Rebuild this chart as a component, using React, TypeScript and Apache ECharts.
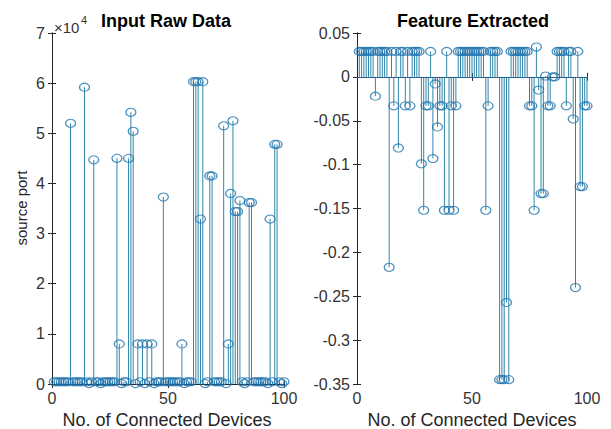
import React, { useEffect, useRef } from "react";
import * as echarts from "echarts";

// Device index (x axis) 1..100
const deviceIndex: number[] = Array.from({ length: 100 }, (_, i) => i + 1);

// Left subplot: raw source port values
const rawSourcePort: number[] = [
  443, 443, 443, 443, 443, 443, 443, 52000, 443, 443,
  443, 443, 443, 59200, 443, 80, 443, 44700, 443, 443,
  80, 443, 443, 443, 443, 443, 443, 45000, 8000, 80,
  443, 443, 45000, 54200, 50400, 80, 8000, 443, 8000, 80,
  8000, 443, 8000, 80, 443, 443, 443, 37300, 443, 443,
  443, 443, 443, 443, 443, 8000, 80, 443, 443, 443,
  60300, 60300, 60300, 32900, 60300, 80, 443, 41500, 41500, 443,
  443, 443, 443, 51500, 80, 8000, 38000, 52500, 34400, 34400,
  36600, 443, 80, 443, 36200, 36200, 443, 443, 443, 443,
  443, 443, 80, 32900, 443, 47800, 47800, 443, 80, 443,
];

// Right subplot: extracted feature values
const featureValues: number[] = [
  0.029, 0.029, 0.029, 0.029, 0.029, 0.029, 0.029, -0.022, 0.029, 0.029,
  0.029, 0.029, 0.029, -0.217, 0.029, -0.033, 0.029, -0.081, 0.029, 0.029,
  -0.033, 0.029, -0.033, 0.029, 0.029, 0.029, 0.029, -0.099, -0.152, -0.033,
  -0.033, 0.029, -0.093, -0.008, -0.057, -0.033, -0.033, -0.152, 0.029, -0.152,
  -0.033, -0.152, -0.033, 0.029, 0.029, 0.029, 0.029, 0.029, 0.029, 0.029,
  0.029, 0.029, 0.029, 0.029, 0.029, -0.152, -0.033, 0.029, 0.029, 0.029,
  0.029, -0.345, -0.345, -0.345, -0.257, -0.345, 0.029, 0.029, 0.029, 0.029,
  0.029, 0.029, 0.029, 0.029, -0.033, -0.033, -0.152, 0.034, -0.015, -0.133,
  -0.133, 0.001, -0.033, -0.033, 0, 0, 0.029, 0.029, 0.029, 0.029,
  -0.033, 0.029, 0.029, -0.048, -0.24, 0.029, -0.125, -0.125, -0.033, -0.033,
];

const leftTitle = "Input Raw Data";
const rightTitle = "Feature Extracted";
const xAxisName = "No. of Connected Devices";
const yAxisName = "source port";

const FONT = "Liberation Sans";
const AXIS_COLOR = "#262626";
const STEM_COLOR = "#2f86aa";
const MARKER_COLOR = "#1f74ae";

export default function App() {
  const ref = useRef<HTMLDivElement>(null);

  useEffect(() => {
    if (!ref.current) return;
    const chart = echarts.init(ref.current, null, { renderer: "svg" });

    const rawData = deviceIndex.map((x, i) => [x, rawSourcePort[i]]);
    const featData = deviceIndex.map((x, i) => [x, featureValues[i]]);

    const stemRender = (params: any, api: any) => {
      const x = api.value(0);
      const y = api.value(1);
      const p0 = api.coord([x, 0]);
      const p1 = api.coord([x, y]);
      return {
        type: "line",
        shape: { x1: p0[0], y1: p0[1], x2: p1[0], y2: p1[1] },
        style: { stroke: STEM_COLOR, lineWidth: 1 },
      };
    };

    const axisLine = { show: true, lineStyle: { color: AXIS_COLOR, width: 1 } };
    const tick = { show: true, inside: true, length: 4, lineStyle: { color: AXIS_COLOR } };
    const label = { color: "#333", fontFamily: FONT, fontSize: 16 };

    const mainX = (grid: number) => ({
      type: "value",
      gridIndex: grid,
      min: 0,
      max: 100,
      interval: 50,
      position: "bottom",
      axisLine,
      axisTick: tick,
      axisLabel: { ...label, margin: 6 },
      splitLine: { show: false },
    });
    const topX = (grid: number) => ({
      type: "value",
      gridIndex: grid,
      min: 0,
      max: 100,
      interval: 50,
      position: "top",
      axisLine,
      axisTick: tick,
      axisLabel: { show: false },
      splitLine: { show: false },
    });

    const option: any = {
      animation: false,
      backgroundColor: "#fff",
      grid: [
        { left: 52, top: 33, width: 232, height: 351 },
        { left: 357, top: 33, width: 230, height: 351 },
      ],
      xAxis: [mainX(0), topX(0), mainX(1), topX(1)],
      yAxis: [
        {
          type: "value",
          gridIndex: 0,
          min: 0,
          max: 70000,
          interval: 10000,
          position: "left",
          axisLine,
          axisTick: tick,
          axisLabel: { ...label, margin: 7, formatter: (v: number) => String(Math.round(v / 10000)) },
          splitLine: { show: false },
        },
        {
          type: "value",
          gridIndex: 0,
          min: 0,
          max: 70000,
          interval: 10000,
          position: "right",
          axisLine,
          axisTick: tick,
          axisLabel: { show: false },
          splitLine: { show: false },
        },
        {
          type: "value",
          gridIndex: 1,
          min: -0.35,
          max: 0.05,
          interval: 0.05,
          position: "left",
          axisLine,
          axisTick: tick,
          axisLabel: {
            ...label,
            margin: 7,
            formatter: (v: number) => String(Number(v.toFixed(2))),
          },
          splitLine: { show: false },
        },
        {
          type: "value",
          gridIndex: 1,
          min: -0.35,
          max: 0.05,
          interval: 0.05,
          position: "right",
          axisLine,
          axisTick: tick,
          axisLabel: { show: false },
          splitLine: { show: false },
        },
      ],
      series: [
        {
          type: "custom",
          xAxisIndex: 0,
          yAxisIndex: 0,
          renderItem: stemRender,
          encode: { x: 0, y: 1 },
          data: rawData,
          silent: true,
        },
        {
          type: "scatter",
          xAxisIndex: 0,
          yAxisIndex: 0,
          symbol: "circle",
          symbolSize: [10, 8],
          itemStyle: { color: "rgba(0,0,0,0)", borderColor: MARKER_COLOR, borderWidth: 1.2 },
          data: rawData,
          silent: true,
        },
        {
          type: "custom",
          xAxisIndex: 2,
          yAxisIndex: 2,
          renderItem: stemRender,
          encode: { x: 0, y: 1 },
          data: featData,
          silent: true,
        },
        {
          type: "scatter",
          xAxisIndex: 2,
          yAxisIndex: 2,
          symbol: "circle",
          symbolSize: [10, 8],
          itemStyle: { color: "rgba(0,0,0,0)", borderColor: MARKER_COLOR, borderWidth: 1.2 },
          data: featData,
          silent: true,
          markLine: {
            silent: true,
            symbol: "none",
            label: { show: false },
            lineStyle: { color: "#2a5f86", width: 1, type: "solid" },
            data: [{ yAxis: 0 }],
          },
        },
      ],
      graphic: [
        {
          type: "text",
          x: 166,
          y: 21,
          style: { text: leftTitle, fontFamily: FONT, fontSize: 18, fontWeight: "bold", fill: "#000", align: "center", verticalAlign: "middle" },
        },
        {
          type: "text",
          x: 473,
          y: 21,
          style: { text: rightTitle, fontFamily: FONT, fontSize: 18, fontWeight: "bold", fill: "#000", align: "center", verticalAlign: "middle" },
        },
        {
          type: "text",
          x: 167,
          y: 420,
          style: { text: xAxisName, fontFamily: FONT, fontSize: 18, fill: "#262626", align: "center", verticalAlign: "middle" },
        },
        {
          type: "text",
          x: 472,
          y: 420,
          style: { text: xAxisName, fontFamily: FONT, fontSize: 18, fill: "#262626", align: "center", verticalAlign: "middle" },
        },
        {
          type: "text",
          x: 21,
          y: 208,
          rotation: Math.PI / 2,
          style: { text: yAxisName, fontFamily: FONT, fontSize: 15, fill: "#262626", align: "center", verticalAlign: "middle" },
        },
        {
          type: "text",
          x: 54,
          y: 27,
          style: { text: "×10", fontFamily: FONT, fontSize: 15, fill: "#333", align: "left", verticalAlign: "middle" },
        },
        {
          type: "text",
          x: 81,
          y: 20,
          style: { text: "4", fontFamily: FONT, fontSize: 11, fill: "#333", align: "left", verticalAlign: "middle" },
        },
      ],
    };

    chart.setOption(option);
    return () => chart.dispose();
  }, []);

  return (
    <div
      ref={ref}
      style={{ position: "fixed", left: 0, top: 0, width: 611, height: 429, background: "#fff" }}
    />
  );
}
